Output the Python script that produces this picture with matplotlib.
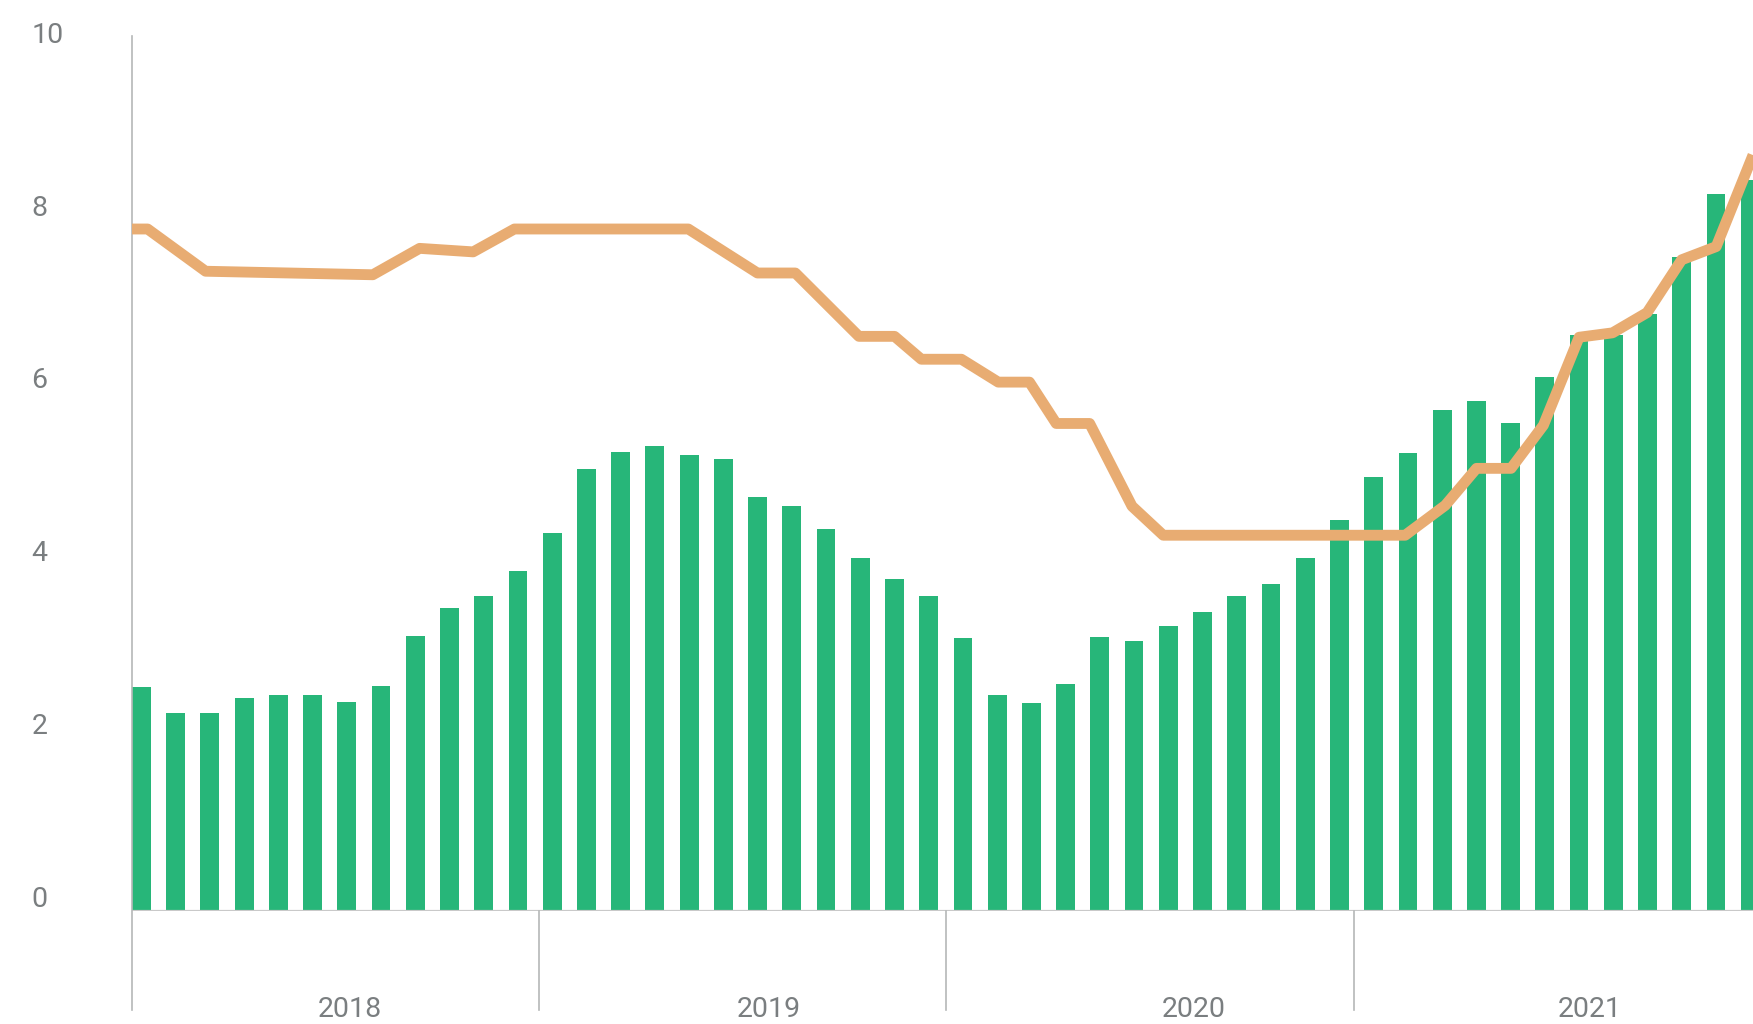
import matplotlib
matplotlib.use("Agg")
import matplotlib.pyplot as plt
import numpy as np
import pandas as pd

plt.rcParams["font.family"] = ["Roboto", "DejaVu Sans"]

# monthly bars (48 values)
inflation = [
    2.55, 2.25, 2.25, 2.42, 2.45, 2.45, 2.37, 2.56, 3.13, 3.44, 3.58, 3.86,
    4.30, 5.02, 5.22, 5.28, 5.18, 5.14, 4.71, 4.60, 4.34, 4.01, 3.77, 3.58,
    3.10, 2.46, 2.36, 2.58, 3.11, 3.07, 3.24, 3.40, 3.58, 3.72, 4.01, 4.44,
    4.93, 5.21, 5.69, 5.80, 5.54, 6.07, 6.55, 6.55, 6.78, 7.43, 8.15, 8.31,
]

# orange line
rate_dates = [
    "2018-01-01", "2018-01-15", "2018-03-08", "2018-08-05", "2018-09-16",
    "2018-11-03", "2018-12-10", "2019-05-15", "2019-07-16", "2019-08-19",
    "2019-10-15", "2019-11-16", "2019-12-10", "2020-01-15", "2020-02-17",
    "2020-03-16", "2020-04-09", "2020-05-09", "2020-06-16", "2020-07-14",
    "2021-02-16", "2021-03-24", "2021-04-21", "2021-05-22", "2021-06-20",
    "2021-07-22", "2021-08-21", "2021-09-21", "2021-10-22", "2021-11-22",
    "2021-12-25",
]
rate_values = [
    7.75, 7.75, 7.27, 7.23, 7.53, 7.49, 7.75, 7.75, 7.25, 7.25,
    6.53, 6.53, 6.27, 6.27, 6.01, 6.01, 5.54, 5.54, 4.60, 4.27,
    4.27, 4.61, 5.03, 5.03, 5.52, 6.52, 6.57, 6.80, 7.40, 7.55,
    8.59,
]

years = ["2018", "2019", "2020", "2021"]
year_label_dates = ["2018-07-15", "2019-07-26", "2020-08-10", "2021-08-01"]
year_starts = ["2019-01-01", "2020-01-01", "2021-01-01"]
y_ticks = [0, 2, 4, 6, 8, 10]

GREEN = "#27b679"
ORANGE = "#e8ac72"
GRAY_TXT = "#7a7e80"
GRAY_LINE = "#b5b8b8"

W, H = 1753, 1024
left_px, base_px, top_px = 132, 911, 36
fig = plt.figure(figsize=(W / 100, H / 100), dpi=100)
ax = fig.add_axes([left_px / W, (H - base_px) / H, (W - left_px) / W, (base_px - top_px) / H])

# bars on their own band scale
ax.bar(np.arange(len(inflation)), inflation, width=0.55, align="edge", color=GREEN, zorder=2)
ax.set_xlim(0, (W - left_px) / 34.23)
ax.set_ylim(0, (base_px - top_px) / 88)
ax.axhline(0, color="#c9c9c9", lw=1.6, zorder=3)

# time axis for the line and year marks
axt = ax.twiny()
start, end = pd.Timestamp("2018-01-01"), pd.Timestamp("2021-12-25")
axt.set_xlim(start, end)
axt.plot(pd.to_datetime(rate_dates), rate_values, color=ORANGE, lw=7.8,
         solid_joinstyle="round", solid_capstyle="butt", zorder=4)

below = -(1010 - base_px) / (base_px - top_px)
axt.axvline(start, ymin=below, ymax=1, color=GRAY_LINE, lw=1.2, clip_on=False)
for d in year_starts:
    axt.axvline(pd.Timestamp(d), ymin=below, ymax=0, color=GRAY_LINE, lw=1.2, clip_on=False)
for d, lab in zip(year_label_dates, years):
    axt.text(pd.Timestamp(d), -(1017 - base_px) / (base_px - top_px), lab,
             transform=axt.get_xaxis_transform(), ha="center", va="baseline",
             fontsize=20.5, color=GRAY_TXT, clip_on=False)

# y labels
axl = ax.twinx()
axl.set_ylim(-0.05, 10.078)
axl.yaxis.tick_left()
axl.set_yticks(y_ticks)
axl.set_yticklabels([str(t) for t in y_ticks])
axl.tick_params(axis="y", length=0, pad=72.5, labelsize=20.5, labelcolor=GRAY_TXT)
plt.setp(axl.get_yticklabels(), ha="left", va="baseline")

for a in (ax, axt, axl):
    for s in a.spines.values():
        s.set_visible(False)
    a.set_xticks([])
ax.set_yticks([])

fig.savefig("out.png", dpi=100)
